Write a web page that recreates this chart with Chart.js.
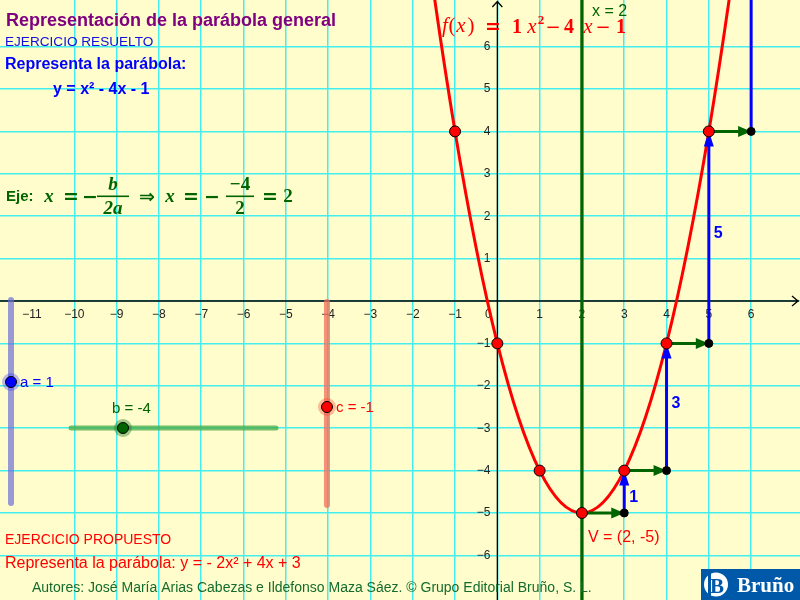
<!DOCTYPE html>
<html lang="es">
<head>
<meta charset="utf-8">
<title>Representación de la parábola general</title>
<script src="https://cdn.jsdelivr.net/npm/chart.js@4.4.1/dist/chart.umd.min.js"></script>
<style>
  html, body { margin: 0; padding: 0; background: #FFFDCC; }
  #wrap { width: 800px; height: 600px; }
</style>
</head>
<body>
<div id="wrap"><canvas id="chart" width="800" height="600"></canvas></div>
<script>
// tabla de valores de f(x) = x² - 4x - 1
const curveX = [-3, -2, -1, 0, 1, 2, 3, 4, 5, 6, 7];
const curveY = [20, 11, 4, -1, -4, -5, -4, -1, 4, 11, 20];

// puntos rojos marcados sobre la parábola
const markedX = [-1, 0, 1, 2, 3, 4, 5];
const markedY = [4, -1, -4, -5, -4, -1, 4];

// escalones desde el vértice: 1 a la derecha (verde) y sube (azul)
const stepX = [2, 3, 4, 5];
const stepY = [-5, -4, -1, 4];
const riseY = [1, 3, 5, 7];
const riseLabels = ['1', '3', '5', '7'];

const axisOfSymmetry = 2;

const xTicks = [-11, -10, -9, -8, -7, -6, -5, -4, -3, -2, -1, 1, 2, 3, 4, 5, 6];
const yTicks = [-6, -5, -4, -3, -2, -1, 1, 2, 3, 4, 5, 6];

const RED = '#FF0000';
const BLUE = '#0000FF';
const GREEN = '#006400';
const GRID = '#44EEEE';
const BG = '#FFFDCC';

const SANS = '"Liberation Sans", Arial, sans-serif';
const SERIF = '"Liberation Serif", "DejaVu Serif", serif';

const fmt = (v) => (v < 0 ? '\u2212' + Math.abs(v) : String(v));

function segment(x0, y0, x1, y1, color, head) {
    return {
        type: 'line',
        data: [{ x: x0, y: y0 }, { x: x1, y: y1 }],
        borderColor: color,
        borderWidth: 3,
        pointRadius: 0,
        arrowHead: head,
        order: 2
    };
}

const datasets = [];

// parábola
datasets.push({
    type: 'line',
    data: curveX.map((x, i) => ({ x: x, y: curveY[i] })),
    borderColor: RED,
    borderWidth: 3,
    pointRadius: 0,
    cubicInterpolationMode: 'monotone',
    order: 3
});

// eje de simetría
datasets.push({
    type: 'line',
    data: [{ x: axisOfSymmetry, y: -100 }, { x: axisOfSymmetry, y: 100 }],
    borderColor: GREEN,
    borderWidth: 3.3,
    pointRadius: 0,
    order: 4
});

stepX.forEach((x, i) => {
    datasets.push(segment(x, stepY[i], x + 1, stepY[i], GREEN, { len: 13, half: 5.5 }));
    datasets.push(segment(x + 1, stepY[i], x + 1, stepY[i] + riseY[i], BLUE, { len: 15, half: 5 }));
});

// puntos negros (esquinas de los escalones)
datasets.push({
    type: 'scatter',
    data: stepX.map((x, i) => ({ x: x + 1, y: stepY[i] })),
    backgroundColor: '#000',
    borderColor: '#000',
    borderWidth: 1,
    pointRadius: 4,
    order: 1
});

// puntos rojos
datasets.push({
    type: 'scatter',
    data: markedX.map((x, i) => ({ x: x, y: markedY[i] })),
    backgroundColor: RED,
    borderColor: '#000',
    borderWidth: 1,
    pointRadius: 5.5,
    order: 0
});

function text(ctx, str, x, y, font, color, align) {
    ctx.font = font;
    ctx.fillStyle = color;
    ctx.textAlign = align || 'left';
    ctx.textBaseline = 'alphabetic';
    ctx.fillText(str, x, y);
}

function slider(ctx, x0, y0, x1, y1, track, width, kx, ky, knob, halo) {
    ctx.save();
    ctx.strokeStyle = track;
    ctx.lineWidth = width;
    ctx.lineCap = 'round';
    ctx.beginPath();
    ctx.moveTo(x0, y0);
    ctx.lineTo(x1, y1);
    ctx.stroke();
    ctx.fillStyle = halo;
    ctx.beginPath();
    ctx.arc(kx, ky, 9, 0, Math.PI * 2);
    ctx.fill();
    ctx.fillStyle = knob;
    ctx.strokeStyle = '#000';
    ctx.lineWidth = 1;
    ctx.beginPath();
    ctx.arc(kx, ky, 5.5, 0, Math.PI * 2);
    ctx.fill();
    ctx.stroke();
    ctx.restore();
}

function fraction(ctx, num, den, cx, x0, x1, color) {
    text(ctx, num, cx, 190, 'bold italic 19px ' + SERIF, color, 'center');
    text(ctx, den, cx, 214, 'bold italic 19px ' + SERIF, color, 'center');
    ctx.fillStyle = color;
    ctx.fillRect(x0, 195.5, x1 - x0, 1.6);
}

const geogebraPlugin = {
    id: 'geogebra',
    beforeDraw(chart) {
        const ctx = chart.ctx;
        ctx.save();
        ctx.fillStyle = BG;
        ctx.fillRect(0, 0, chart.width, chart.height);
        ctx.restore();
    },
    beforeDatasetsDraw(chart) {
        const ctx = chart.ctx;
        const sx = chart.scales.x;
        const sy = chart.scales.y;
        const ox = sx.getPixelForValue(0);
        const oy = sy.getPixelForValue(0);
        const area = chart.chartArea;
        ctx.save();
        ctx.strokeStyle = '#000';
        ctx.lineWidth = 1.3;
        ctx.beginPath();
        ctx.moveTo(area.left, oy);
        ctx.lineTo(area.right - 1, oy);
        ctx.moveTo(ox, area.bottom);
        ctx.lineTo(ox, area.top + 1);
        // flechas de los ejes
        ctx.moveTo(area.right - 8, oy - 5);
        ctx.lineTo(area.right - 2, oy);
        ctx.lineTo(area.right - 8, oy + 5);
        ctx.moveTo(ox - 5, area.top + 7);
        ctx.lineTo(ox, area.top + 1.5);
        ctx.lineTo(ox + 5, area.top + 7);
        ctx.stroke();

        xTicks.forEach((v) => {
            text(ctx, fmt(v), sx.getPixelForValue(v), oy + 17, '12px ' + SANS, '#222', 'center');
        });
        text(ctx, '0', ox - 9, oy + 17, '12px ' + SANS, '#222', 'center');
        yTicks.forEach((v) => {
            ctx.font = '12px ' + SANS;
            ctx.fillStyle = '#222';
            ctx.textAlign = 'right';
            ctx.textBaseline = 'middle';
            ctx.fillText(fmt(v), ox - 7, sy.getPixelForValue(v));
        });
        ctx.restore();
    },
    afterDatasetDraw(chart, args) {
        const ds = chart.data.datasets[args.index];
        if (!ds.arrowHead) return;
        const pts = args.meta.data;
        const p0 = pts[0];
        const p1 = pts[1];
        const ang = Math.atan2(p1.y - p0.y, p1.x - p0.x);
        const ctx = chart.ctx;
        const a = chart.chartArea;
        const h = ds.arrowHead;
        ctx.save();
        ctx.beginPath();
        ctx.rect(a.left, a.top, a.right - a.left, a.bottom - a.top);
        ctx.clip();
        ctx.translate(p1.x, p1.y);
        ctx.rotate(ang);
        ctx.fillStyle = ds.borderColor;
        ctx.beginPath();
        ctx.moveTo(0, 0);
        ctx.lineTo(-h.len, -h.half);
        ctx.lineTo(-h.len, h.half);
        ctx.closePath();
        ctx.fill();
        ctx.restore();
    },
    afterDatasetsDraw(chart) {
        const ctx = chart.ctx;
        const sx = chart.scales.x;
        const sy = chart.scales.y;
        ctx.save();
        // incrementos verticales, apartados de la punta de la flecha
        stepX.forEach((x, i) => {
            const px = sx.getPixelForValue(x + 1) + 5;
            const mid = sy.getPixelForValue(stepY[i] + riseY[i] / 2) + 1;
            const tip = sy.getPixelForValue(stepY[i] + riseY[i]) + 31;
            text(ctx, riseLabels[i], px, Math.max(mid, tip), 'bold 16px ' + SANS, BLUE, 'left');
        });
        const vx = sx.getPixelForValue(axisOfSymmetry);
        text(ctx, 'V = (2, -5)', vx + 6, sy.getPixelForValue(-5) + 29, '16px ' + SANS, RED, 'left');
        text(ctx, 'x = 2', vx + 10, 16, '16px ' + SANS, GREEN, 'left');
        ctx.restore();
    },
    afterDraw(chart) {
        const ctx = chart.ctx;
        ctx.save();
        // textos de la izquierda
        text(ctx, 'Representación de la parábola general', 6, 26, 'bold 18px ' + SANS, '#800080');
        text(ctx, 'EJERCICIO RESUELTO', 5, 46, '13.6px ' + SANS, '#1010E0');
        text(ctx, 'Representa la parábola:', 5, 69, 'bold 16px ' + SANS, BLUE);
        text(ctx, 'y = x² - 4x - 1', 53, 94, 'bold 16px ' + SANS, BLUE);

        // eje de simetría: fórmula
        text(ctx, 'Eje:', 6, 201, 'bold 15px ' + SANS, GREEN);
        const mi = 'bold italic 19px ' + SERIF;
        const op = 'bold 19px "DejaVu Sans", sans-serif';
        text(ctx, 'x', 49, 202, mi, GREEN, 'center');
        text(ctx, '=', 71, 203, op, GREEN, 'center');
        text(ctx, '\u2212', 90, 203, op, GREEN, 'center');
        fraction(ctx, 'b', '2a', 113, 97, 129, GREEN);
        text(ctx, '\u21D2', 147, 203, op, GREEN, 'center');
        text(ctx, 'x', 170, 202, mi, GREEN, 'center');
        text(ctx, '=', 191, 203, op, GREEN, 'center');
        text(ctx, '\u2212', 212, 203, op, GREEN, 'center');
        text(ctx, '\u22124', 240, 190, 'bold 19px ' + SERIF, GREEN, 'center');
        text(ctx, '2', 240, 214, 'bold 19px ' + SERIF, GREEN, 'center');
        ctx.fillStyle = GREEN;
        ctx.fillRect(226, 195.5, 28, 1.6);
        text(ctx, '=', 270, 203, op, GREEN, 'center');
        text(ctx, '2', 288, 202, 'bold 19px ' + SERIF, GREEN, 'center');

        // f(x) en la parte superior
        const fi = 'italic 21px ' + SERIF;
        const fn = 'bold 20px ' + SERIF;
        const fo = '18px "DejaVu Sans", sans-serif';
        text(ctx, 'f', 445, 32, fi, RED, 'center');
        text(ctx, '(', 452, 32, '21px ' + SERIF, RED, 'center');
        text(ctx, 'x', 461, 32, fi, RED, 'center');
        text(ctx, ')', 471, 32, '21px ' + SERIF, RED, 'center');
        text(ctx, '=', 493, 33, 'bold 19px "DejaVu Sans", sans-serif', RED, 'center');
        text(ctx, '1', 517, 33, fn, RED, 'center');
        text(ctx, 'x', 532, 33, fi, RED, 'center');
        text(ctx, '2', 541, 24, 'bold 13px ' + SERIF, RED, 'center');
        text(ctx, '\u2212', 553, 33, fo, RED, 'center');
        text(ctx, '4', 569, 33, fn, RED, 'center');
        text(ctx, 'x', 588, 33, fi, RED, 'center');
        text(ctx, '\u2212', 603, 33, fo, RED, 'center');
        text(ctx, '1', 621, 33, fn, RED, 'center');

        // deslizadores a, b, c
        slider(ctx, 11, 300, 11, 503, 'rgba(110,110,215,0.7)', 6, 11, 382, BLUE, 'rgba(60,60,255,0.35)');
        text(ctx, 'a = 1', 20, 387, '15px ' + SANS, BLUE);
        slider(ctx, 71, 428, 276, 428, 'rgba(70,170,70,0.75)', 5, 123, 428, GREEN, 'rgba(30,120,30,0.4)');
        text(ctx, 'b = -4', 112, 413, '15px ' + SANS, GREEN);
        slider(ctx, 327, 302, 327, 505, 'rgba(240,110,90,0.75)', 6, 327, 407, RED, 'rgba(255,60,40,0.35)');
        text(ctx, 'c = -1', 336, 412, '15px ' + SANS, RED);

        // ejercicio propuesto y créditos
        text(ctx, 'EJERCICIO PROPUESTO', 5, 544, '14px ' + SANS, RED);
        text(ctx, 'Representa la parábola: y = - 2x² + 4x + 3', 5, 568, '16px ' + SANS, RED);
        text(ctx, 'Autores: José María Arias Cabezas e Ildefonso Maza Sáez. © Grupo Editorial Bruño, S. L.',
            32, 592, '14px ' + SANS, '#146B2E');

        // logotipo
        ctx.fillStyle = '#0058A8';
        ctx.fillRect(701, 569, 99, 31);
        ctx.fillStyle = '#FFF';
        ctx.beginPath();
        ctx.arc(716, 584.5, 12, 0, Math.PI * 2);
        ctx.fill();
        text(ctx, 'B', 717, 593, 'bold 21px ' + SERIF, '#0058A8', 'center');
        ctx.fillStyle = '#0058A8';
        ctx.fillRect(708, 572, 3, 25);
        text(ctx, 'Bruño', 737, 592, 'bold 21px ' + SERIF, '#FFF');
        ctx.restore();
    }
};

const integerTicks = (scale) => {
    scale.ticks = scale.ticks.filter((t) => Number.isInteger(t.value));
};

new Chart(document.getElementById('chart'), {
    type: 'line',
    data: { datasets: datasets },
    options: {
        responsive: false,
        animation: false,
        events: [],
        layout: { padding: 0, autoPadding: false },
        plugins: { legend: { display: false }, tooltip: { enabled: false } },
        scales: {
            x: {
                type: 'linear',
                min: -11.757,
                max: 7.155,
                ticks: { display: false, stepSize: 1 },
                border: { display: false },
                grid: { color: GRID, lineWidth: 1.5, drawTicks: false, tickLength: 0 },
                afterBuildTicks: integerTicks,
                afterFit: (s) => { s.height = 0; s.paddingLeft = 0; s.paddingRight = 0; }
            },
            y: {
                type: 'linear',
                min: -7.052,
                max: 7.099,
                ticks: { display: false, stepSize: 1 },
                border: { display: false },
                grid: { color: GRID, lineWidth: 1.5, drawTicks: false, tickLength: 0 },
                afterBuildTicks: integerTicks,
                afterFit: (s) => { s.width = 0; s.paddingTop = 0; s.paddingBottom = 0; }
            }
        }
    },
    plugins: [geogebraPlugin]
});
</script>
</body>
</html>
